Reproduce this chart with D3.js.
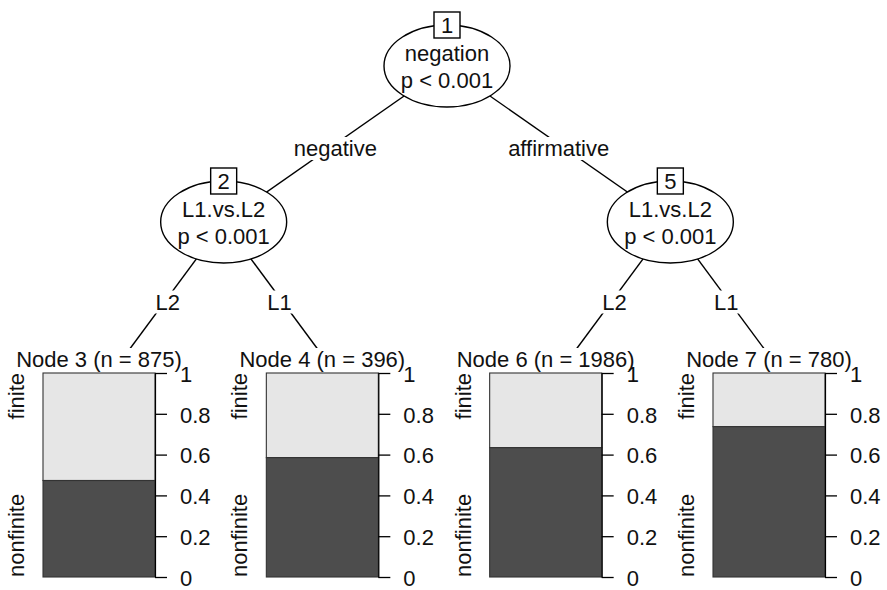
<!DOCTYPE html>
<html>
<head>
<meta charset="utf-8">
<script src="https://cdn.jsdelivr.net/npm/d3@7"></script>
<style>
  html, body { margin: 0; padding: 0; background: #ffffff; }
  svg { display: block; }
  text { font-family: "Liberation Sans", Arial, Helvetica, sans-serif; fill: #111; }
</style>
</head>
<body>
<svg id="chart" width="887" height="590"></svg>
<script>
// ---- data ----
const innerIds   = [1, 2, 5];
const innerVars  = ["negation", "L1.vs.L2", "L1.vs.L2"];
const innerP     = ["p < 0.001", "p < 0.001", "p < 0.001"];
const innerDepth = [0, 1, 1];
const termIds    = [3, 4, 6, 7];
const termN      = [875, 396, 1986, 780];
const nonfiniteProp = [0.473, 0.585, 0.634, 0.737];
const classLevels = ["nonfinite", "finite"];
const yTicks     = [0, 0.2, 0.4, 0.6, 0.8, 1];
const edgeFrom   = [1, 1, 2, 2, 5, 5];
const edgeTo     = [2, 5, 3, 4, 6, 7];
const edgeLabels = ["negative", "affirmative", "L2", "L1", "L2", "L1"];

// ---- layout ----
const svg = d3.select("#chart");
const FONT = 22;
const xTerm = d3.scaleLinear().domain([0, termIds.length - 1]).range([112, 782]);
const yDepth = d3.scaleLinear().domain([0, 1]).range([66, 222]);
const yBar = d3.scaleLinear().domain([0, 1]).range([577, 373]);
const barW = 112, barOffset = 69;
const rx = 63, ry = 41, boxS = 26;

const children = {};
edgeFrom.forEach((f, i) => { (children[f] = children[f] || []).push(edgeTo[i]); });
const pos = {};
termIds.forEach((id, i) => { pos[id] = { x: xTerm(i), y: yBar(1), terminal: true }; });
function place(id) {
  if (pos[id]) return pos[id];
  const ch = children[id].map(place);
  const k = innerIds.indexOf(id);
  pos[id] = { x: d3.mean(ch, c => c.x), y: yDepth(innerDepth[k]), terminal: false };
  return pos[id];
}
place(1);

// ---- edges ----
const gEdges = svg.append("g");
edgeFrom.forEach((f, i) => {
  const a = pos[f], b = pos[edgeTo[i]];
  gEdges.append("line")
    .attr("x1", a.x).attr("y1", a.y).attr("x2", b.x).attr("y2", b.y)
    .attr("stroke", "#000").attr("stroke-width", 1.4);
});

// ---- terminal panels ----
const gTerm = svg.append("g");
termIds.forEach((id, i) => {
  const cx = xTerm(i);
  const left = cx - barOffset;
  const g = gTerm.append("g");
  g.append("rect").attr("x", cx - 110).attr("y", 348).attr("width", 220).attr("height", 242)
    .attr("fill", "#fff");
  const p = nonfiniteProp[i];
  // finite (top, light)
  g.append("rect").attr("x", left).attr("y", yBar(1)).attr("width", barW)
    .attr("height", yBar(p) - yBar(1)).attr("fill", "#e6e6e6").attr("stroke", "#333").attr("stroke-width", 1.1);
  // nonfinite (bottom, dark)
  g.append("rect").attr("x", left).attr("y", yBar(p)).attr("width", barW)
    .attr("height", yBar(0) - yBar(p)).attr("fill", "#4d4d4d").attr("stroke", "#333").attr("stroke-width", 1.1);
  // axis
  const ax = g.append("g").attr("transform", `translate(${left + barW},0)`)
    .call(d3.axisRight(yBar).tickValues(yTicks).tickSize(12).tickSizeOuter(0).tickPadding(13)
      .tickFormat(d => (d === 0 || d === 1) ? String(d) : d.toFixed(1)));
  ax.select(".domain").attr("stroke", "#000").attr("stroke-width", 1.2);
  ax.selectAll(".tick line").attr("stroke", "#000").attr("stroke-width", 1.3);
  ax.selectAll("text").attr("font-size", FONT).attr("fill", "#111").attr("dy", "0.38em")
    .style("font-family", "Liberation Sans, Arial, sans-serif");
  // class labels
  g.append("text").attr("transform", `translate(${left - 19},${yBar(1)}) rotate(-90)`)
    .attr("text-anchor", "end").attr("font-size", FONT).text(classLevels[1]);
  g.append("text").attr("transform", `translate(${left - 19},${yBar(0)}) rotate(-90)`)
    .attr("text-anchor", "start").attr("font-size", FONT).text(classLevels[0]);
  // title
  g.append("text").attr("x", left + barW / 2).attr("y", 367).attr("text-anchor", "middle")
    .attr("font-size", FONT).text(`Node ${id} (n = ${termN[i]})`);
});

// ---- edge labels ----
const gLab = svg.append("g");
edgeFrom.forEach((f, i) => {
  const a = pos[f], b = pos[edgeTo[i]];
  const mx = (a.x + b.x) / 2, my = (a.y + b.y) / 2;
  const t = gLab.append("text").attr("x", mx).attr("y", my + 12).attr("text-anchor", "middle")
    .attr("font-size", FONT).text(edgeLabels[i]);
  const bb = t.node().getBBox();
  gLab.insert("rect", () => t.node()).attr("x", bb.x - 2).attr("y", bb.y + 1)
    .attr("width", bb.width + 4).attr("height", bb.height - 2).attr("fill", "#fff");
});

// ---- inner nodes ----
const gIn = svg.append("g");
innerIds.forEach((id, k) => {
  const p = pos[id];
  gIn.append("ellipse").attr("cx", p.x).attr("cy", p.y).attr("rx", rx).attr("ry", ry)
    .attr("fill", "#fff").attr("stroke", "#000").attr("stroke-width", 1.4);
  gIn.append("text").attr("x", p.x).attr("y", p.y - 5).attr("text-anchor", "middle")
    .attr("font-size", FONT).text(innerVars[k]);
  gIn.append("text").attr("x", p.x).attr("y", p.y + 22).attr("text-anchor", "middle")
    .attr("font-size", FONT).text(innerP[k]);
  gIn.append("rect").attr("x", p.x - boxS / 2).attr("y", p.y - ry - boxS / 2)
    .attr("width", boxS).attr("height", boxS).attr("fill", "#fff").attr("stroke", "#000").attr("stroke-width", 1.4);
  gIn.append("text").attr("x", p.x).attr("y", p.y - ry + 8).attr("text-anchor", "middle")
    .attr("font-size", FONT).text(id);
});
</script>
</body>
</html>
